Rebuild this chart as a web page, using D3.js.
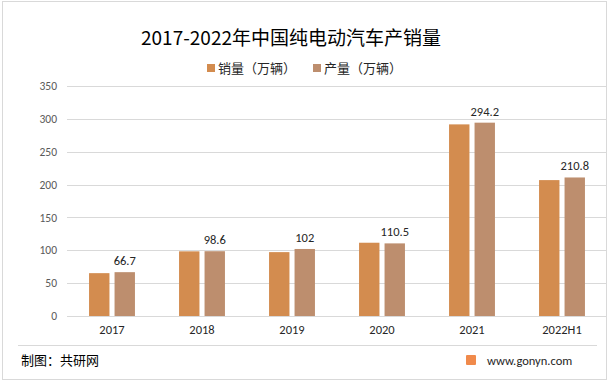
<!DOCTYPE html>
<html>
<head>
<meta charset="utf-8">
<script src="https://cdn.jsdelivr.net/npm/d3@7"></script>
<style>
  body { margin: 0; background: #fff; }
  svg { display: block; font-family: "Microsoft YaHei", "Noto Sans CJK SC", sans-serif; }
</style>
</head>
<body>
<svg id="chart" width="611" height="384"></svg>
<script>
var years = ["2017", "2018", "2019", "2020", "2021", "2022H1"];
var sales = [65.2, 98.4, 97.2, 111.5, 291.6, 206.8];
var production = [66.7, 98.6, 102, 110.5, 294.2, 210.8];
var seriesNames = ["销量（万辆）", "产量（万辆）"];
var seriesColors = ["#d38c4f", "#bd8e6e"];
var yTicks = [0, 50, 100, 150, 200, 250, 300, 350];

var svg = d3.select("#chart"),
	width = +svg.attr("width"),
	height = +svg.attr("height");

// outer frame
svg.append("rect")
	.attr("x", 2.5).attr("y", 1.5)
	.attr("width", 604).attr("height", 378)
	.attr("fill", "#fff")
	.attr("stroke", "#d9d9d9");

var x = d3.scaleBand()
	.domain(years)
	.range([67, 607])
	.paddingInner(0.49)
	.paddingOuter(0.245);

var x1 = d3.scaleBand()
	.domain([0, 1])
	.range([0, x.bandwidth()])
	.paddingInner(0.2);

var y = d3.scaleLinear()
	.domain([0, 350])
	.range([316, 86]);

// gridlines
svg.append("g").selectAll("line")
	.data(yTicks)
	.enter().append("line")
	.attr("x1", 67).attr("x2", 606)
	.attr("y1", function(d) { return Math.round(y(d)) + 0.5; })
	.attr("y2", function(d) { return Math.round(y(d)) + 0.5; })
	.attr("stroke", "#d9d9d9");

// y axis labels
var yAxis = d3.axisLeft(y).tickValues(yTicks).tickSize(0).tickPadding(0);
svg.append("g")
	.attr("transform", "translate(57,0)")
	.call(yAxis)
	.call(function(g) { g.select(".domain").remove(); })
	.selectAll("text")
	.attr("font-size", 11.5)
	.attr("fill", "#595959")
	.attr("font-family", "Calibri, Carlito, 'Noto Sans', sans-serif");

// x axis labels
var xAxis = d3.axisBottom(x).tickSize(0).tickPadding(0);
svg.append("g")
	.attr("transform", "translate(0,325)")
	.call(xAxis)
	.call(function(g) { g.select(".domain").remove(); })
	.selectAll("text")
	.attr("font-size", 12.5)
	.attr("fill", "#262626")
	.attr("font-family", "Calibri, Carlito, 'Noto Sans', sans-serif");

// bars
var seriesData = [sales, production];
seriesData.forEach(function(vals, s) {
	svg.append("g").selectAll("rect")
		.data(vals)
		.enter().append("rect")
		.attr("x", function(d, i) { return x(years[i]) + x1(s); })
		.attr("width", x1.bandwidth())
		.attr("y", function(d) { return y(d); })
		.attr("height", function(d) { return y(0) - y(d); })
		.attr("fill", seriesColors[s]);
});

// data labels on production bars
svg.append("g").selectAll("text")
	.data(production)
	.enter().append("text")
	.attr("x", function(d, i) { return x(years[i]) + x1(1) + x1.bandwidth() / 2; })
	.attr("y", function(d) { return y(d) - 7; })
	.attr("text-anchor", "middle")
	.attr("font-size", 12.5)
	.attr("fill", "#262626")
	.attr("font-family", "Calibri, Carlito, 'Noto Sans', sans-serif")
	.text(function(d) { return d; });

// title
svg.append("text")
	.attr("x", 291).attr("y", 45)
	.attr("text-anchor", "middle")
	.attr("font-size", 19)
	.attr("fill", "#000")
	.text("2017-2022年中国纯电动汽车产销量");

// legend
var legendX = [207, 313];
seriesNames.forEach(function(name, s) {
	svg.append("rect")
		.attr("x", legendX[s]).attr("y", 64)
		.attr("width", 8).attr("height", 8)
		.attr("fill", seriesColors[s]);
	svg.append("text")
		.attr("x", legendX[s] + 11).attr("y", 73)
		.attr("font-size", 13)
		.attr("fill", "#262626")
		.text(name);
});

// footer
svg.append("line")
	.attr("x1", 18).attr("x2", 597)
	.attr("y1", 345.5).attr("y2", 345.5)
	.attr("stroke", "#d9d9d9");
svg.append("text")
	.attr("x", 21).attr("y", 365)
	.attr("font-size", 13)
	.attr("fill", "#000")
	.text("制图：共研网");
svg.append("rect")
	.attr("x", 466).attr("y", 355)
	.attr("width", 10).attr("height", 10)
	.attr("rx", 1)
	.attr("fill", "#f08a4b");
svg.append("text")
	.attr("x", 487).attr("y", 365)
	.attr("font-size", 12.5)
	.attr("fill", "#262626")
	.attr("font-family", "Calibri, Carlito, 'Noto Sans', sans-serif")
	.text("www.gonyn.com");
</script>
</body>
</html>
